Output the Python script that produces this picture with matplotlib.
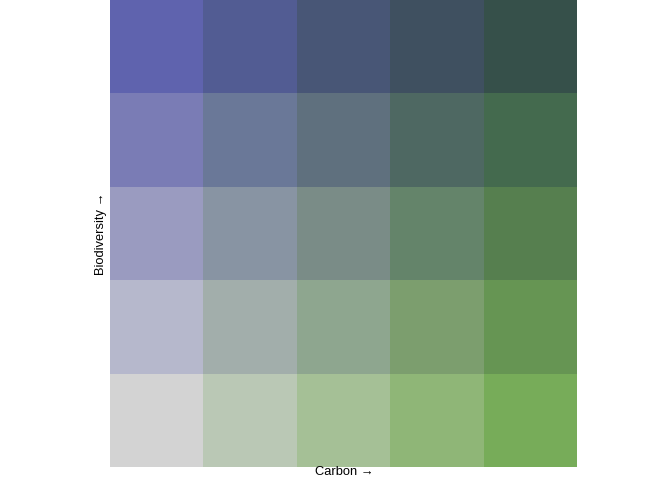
import matplotlib
matplotlib.use("Agg")
import matplotlib.pyplot as plt
import numpy as np

plt.rcParams['font.family'] = ['Liberation Sans', 'DejaVu Sans']

carbon_levels = [1, 2, 3, 4, 5]
biodiversity_levels = [1, 2, 3, 4, 5]
# colours by biodiversity row (bottom=1 to top=5), carbon column (left=1 to right=5)
colors_bio1 = ["#d3d3d3", "#bac8b5", "#a5c096", "#8fb677", "#77ac59"]
colors_bio2 = ["#b6b8cc", "#a2aeab", "#8ea68f", "#7c9e6e", "#669553"]
colors_bio3 = ["#9a9bc0", "#8894a3", "#7a8c87", "#64846a", "#567f4f"]
colors_bio4 = ["#7a7cb5", "#6a7898", "#5f707e", "#4e6862", "#446a4e"]
colors_bio5 = ["#5f63ae", "#525c93", "#485676", "#3f5060", "#36504a"]

rows = [colors_bio1, colors_bio2, colors_bio3, colors_bio4, colors_bio5]

fig = plt.figure(figsize=(6.72, 4.80), dpi=100)
ax = fig.add_axes([110/672, 13/480, 467/672, 467/480])

for bi, row in zip(biodiversity_levels, rows):
    for ci, col in zip(carbon_levels, row):
        ax.add_patch(plt.Rectangle((ci - 0.5, bi - 0.5), 1, 1, facecolor=col, edgecolor='none'))

ax.set_xlim(0.5, 5.5)
ax.set_ylim(0.5, 5.5)
ax.set_xticks([])
ax.set_yticks([])
for s in ax.spines.values():
    s.set_visible(False)

fig.text(344 / 672, 1 - 472 / 480, "Carbon \u2192", ha='center', va='center', fontsize=9.3)
fig.text(101 / 672, 1 - 234 / 480, "Biodiversity \u2192", ha='center', va='center', rotation=90, fontsize=9.3)

fig.savefig("out.png", dpi=100)
